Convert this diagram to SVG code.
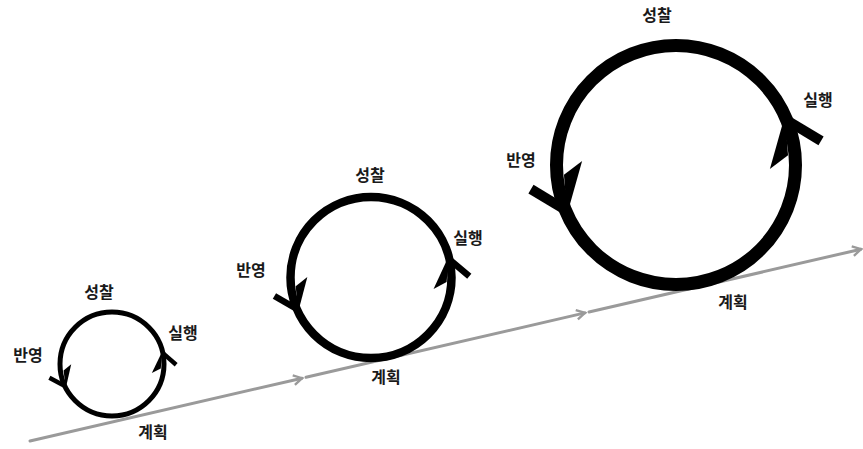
<svg xmlns="http://www.w3.org/2000/svg" xmlns:xlink="http://www.w3.org/1999/xlink" width="863" height="449" viewBox="0 0 863 449">
<style>
.lbl{font-family:"Noto Sans CJK KR","Noto Sans",sans-serif;font-size:16px;font-weight:700;fill:#1a1a1a;text-anchor:middle}
.ring{fill:none;stroke:#000}
.base{stroke:#9a9a9a;stroke-width:3;fill:none;stroke-linecap:round}
</style>
<defs>
<marker id="gm" viewBox="0 0 10 10" refX="8" refY="5" markerWidth="4" markerHeight="4" orient="auto" markerUnits="strokeWidth">
<path d="M1,1 L8,5 L1,9" fill="none" stroke="#9a9a9a" stroke-width="2"/>
</marker>
<g id="ah">
<polygon points="3,4 -29,28 -35,20 -3,-4" fill="#000"/>
<polygon points="5,0 -33,-12 -39,-34" fill="#000"/>
</g>
</defs>
<rect width="863" height="449" fill="#fff"/>
<g id="connectors">
<line class="base" x1="30" y1="441" x2="302" y2="378.2" marker-end="url(#gm)"/>
<line class="base" x1="306" y1="377.3" x2="585" y2="312.9" marker-end="url(#gm)"/>
<line class="base" x1="589" y1="312" x2="861" y2="249.2" marker-end="url(#gm)"/>
</g>
<g id="cycle1">
<circle class="ring" cx="112" cy="364" r="52" stroke-width="5"/>
<use xlink:href="#ah" transform="translate(64.9,386) rotate(65) scale(0.44)"/>
<use xlink:href="#ah" transform="translate(162.9,353.2) rotate(-102) scale(0.44)"/>
<text class="lbl" x="99" y="298">성찰</text>
<text class="lbl" x="183" y="339">실행</text>
<text class="lbl" x="28" y="361">반영</text>
<text class="lbl" x="153" y="438">계획</text>
</g>
<g id="cycle2">
<circle class="ring" cx="371" cy="277.5" r="80.5" stroke-width="8.5"/>
<use xlink:href="#ah" transform="translate(296.9,309) rotate(67) scale(0.65)"/>
<use xlink:href="#ah" transform="translate(449.4,259.4) rotate(-103) scale(0.65)"/>
<text class="lbl" x="370" y="181">성찰</text>
<text class="lbl" x="468" y="244">실행</text>
<text class="lbl" x="251" y="276">반영</text>
<text class="lbl" x="386" y="383">계획</text>
</g>
<g id="cycle3">
<circle class="ring" cx="676" cy="165" r="119.5" stroke-width="13"/>
<use xlink:href="#ah" transform="translate(565.2,209.8) rotate(68)"/>
<use xlink:href="#ah" transform="translate(786.8,120.2) rotate(-112)"/>
<text class="lbl" x="657" y="21">성찰</text>
<text class="lbl" x="818" y="106">실행</text>
<text class="lbl" x="521" y="166">반영</text>
<text class="lbl" x="733" y="308">계획</text>
</g>
</svg>
